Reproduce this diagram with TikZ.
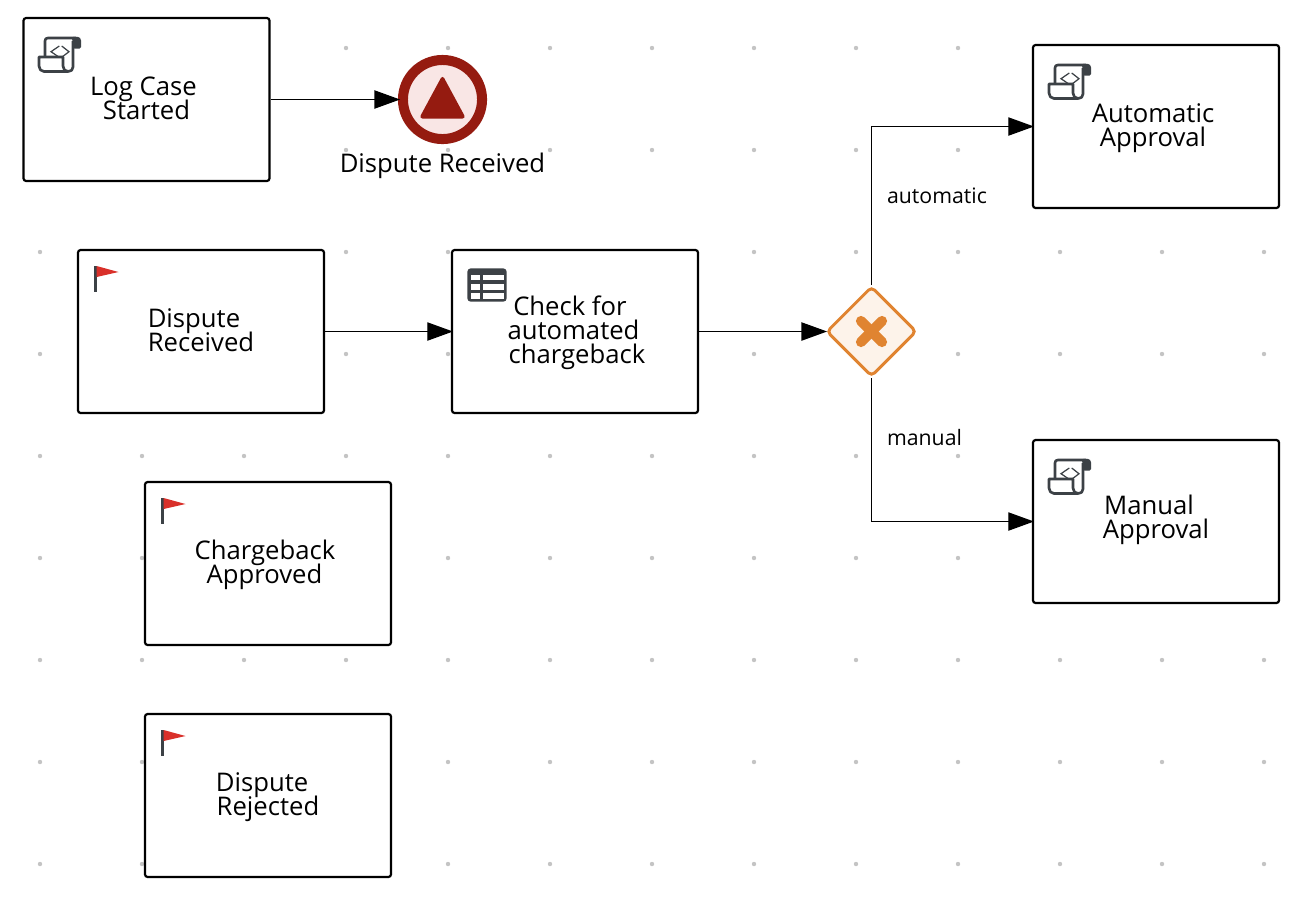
\documentclass[tikz,border=0pt]{standalone}
\usepackage{fontspec}
\setmainfont{Open Sans}
\usetikzlibrary{arrows.meta}
\usetikzlibrary{shapes.geometric}
\definecolor{icongray}{HTML}{3C4146}
\definecolor{eventred}{HTML}{951B10}
\definecolor{eventfill}{HTML}{F9E6E5}
\definecolor{gateorange}{HTML}{E08431}
\definecolor{gatefill}{HTML}{FDF3EA}
\definecolor{flagred}{HTML}{D9302A}
\definecolor{griddot}{HTML}{C4C4C4}
\tikzset{
    flow/.style={line width=0.36pt, shorten >=-0.6pt, -{Triangle[length=7.3pt,width=5.2pt]}},
    taskbox/.style={shape=rectangle, draw=black, fill=white, line width=0.62pt, rounded corners=0.8pt, minimum width=2.46cm, minimum height=1.63cm, inner sep=0pt},
    tasktext/.style={align=center, inner sep=0pt, font=\fontsize{7.3}{6.83}\selectfont, execute at begin node={\setlength{\lineskiplimit}{-10pt}}},
    flowtext/.style={inner sep=0pt, font=\fontsize{6.05}{7}\selectfont},
    flagicon/.pic={
        \draw[icongray, line width=0.75pt] (1.3,0) -- (1.3,25.5);
        \fill[flagred] (2.6,0) -- (24.5,6) -- (2.6,11) -- cycle;
    },
    scrollicon/.pic={
        \draw[icongray, line width=0.75pt, line join=round] (7,21) -- (7,5) .. controls (7,3) and (8,2) .. (10,2) -- (38,2);
        \fill[icongray, rounded corners=0.4pt] (34,0.8) -- (41,0.8) -- (43,3) -- (43,12.5) -- (35,12.5) -- cycle;
        \draw[icongray, line width=0.75pt, line join=round] (35,5) -- (35,31) .. controls (35,34) and (33,35.5) .. (30,35.5) -- (6,35.5) .. controls (3,35.5) and (1,33) .. (1,30) -- (1,21) -- (25,21) -- (25,30) .. controls (25,33) and (27,35.5) .. (30,35.5);
        \draw[icongray, line width=0.35pt] (21.3,10) -- (13,15.7) -- (21.3,21.3);
        \draw[icongray, line width=0.35pt] (23.7,10) -- (31,15.7) -- (23.7,21.3);
    },
    tableicon/.pic={
        \fill[icongray, rounded corners=1pt] (0,0) rectangle (39.4,33.4);
        \foreach \yt/\yb in {6.5/11.8, 15.5/21.2, 24.8/30.5} {
            \fill[white] (3.6,\yt) rectangle (12.2,\yb);
            \fill[white] (15.8,\yt) rectangle (36.2,\yb);
        }
    },
}
\begin{document}
\begin{tikzpicture}[x=0.01cm, y=-0.01cm]
        \useasboundingbox (0,0) rectangle (1300,896);

        % grid
        \foreach \gx in {40,142,...,1264}
            \foreach \gy in {48,150,...,864}
                \fill[griddot] (\gx,\gy) circle (2.2);

        % tasks
        \node (logcase) at (146.5,99.5) [taskbox] {};
        \node (received) at (201,331.5) [taskbox] {};
        \node (check) at (575,331.5) [taskbox] {};
        \node (approved) at (268,563.5) [taskbox] {};
        \node (rejected) at (268,795.5) [taskbox] {};
        \node (automatic) at (1156,126.5) [taskbox] {};
        \node (manual) at (1156,521.5) [taskbox] {};

        \node (logcasetext) at (143.5,98) [tasktext] {Log Case\\\kern 1.7pt Started};
        \node (receivedtext) at (201,330) [tasktext] {Dispute\kern 4pt\\Received};
        \node (checktext) at (577,333) [tasktext] {Check for\kern 4pt\\automated\kern 2pt\\chargeback};
        \node (approvedtext) at (265,565) [tasktext] {Chargeback\\Approved\kern 0.3pt};
        \node (rejectedtext) at (268,797) [tasktext] {Dispute\kern 3.4pt\\Rejected};
        \node (automatictext) at (1153,128) [tasktext] {Automatic\\Approval};
        \node (manualtext) at (1156,520) [tasktext] {Manual\kern 4pt\\Approval};

        % event
        \node (event) at (442.5,99.5) [shape=circle, draw=eventred, fill=eventfill, line width=2.85pt, minimum size=2.47cm*0.32, inner sep=0pt] {};
        \fill[eventred, rounded corners=1pt] (442.5,75) -- (466,118.5) -- (419,118.5) -- cycle;
        \node (eventtext) at (442.5,166) [tasktext] {Dispute Received};

        % gateway
        \node (gate) at (871.5,331.5) [shape=diamond, draw=gateorange, fill=gatefill, line width=0.85pt, rounded corners=1.2pt, minimum width=0.90cm, minimum height=0.90cm, inner sep=0pt] {};
        \draw[gateorange, line width=2.9pt, line cap=round] (861,321) -- (882,342);
        \draw[gateorange, line width=2.9pt, line cap=round] (882,321) -- (861,342);

        % icons
        \pic at (38,36) {scrollicon};
        \pic at (1048,63) {scrollicon};
        \pic at (1048,458) {scrollicon};
        \pic at (94,266) {flagicon};
        \pic at (161,498) {flagicon};
        \pic at (161,730) {flagicon};
        \pic at (467.3,268.3) {tableicon};

        % flows
        \draw[flow] (logcase) -- (event);
        \draw[flow] (received) -- (check);
        \draw[flow] (check) -- (gate);
        \draw[flow] (gate) |- (automatic);
        \draw[flow] (gate) |- (manual);
        \node (autolabel) at (937,196) [flowtext] {automatic};
        \node (manuallabel) at (924.5,438) [flowtext] {manual};
    \end{tikzpicture}
\end{document}
